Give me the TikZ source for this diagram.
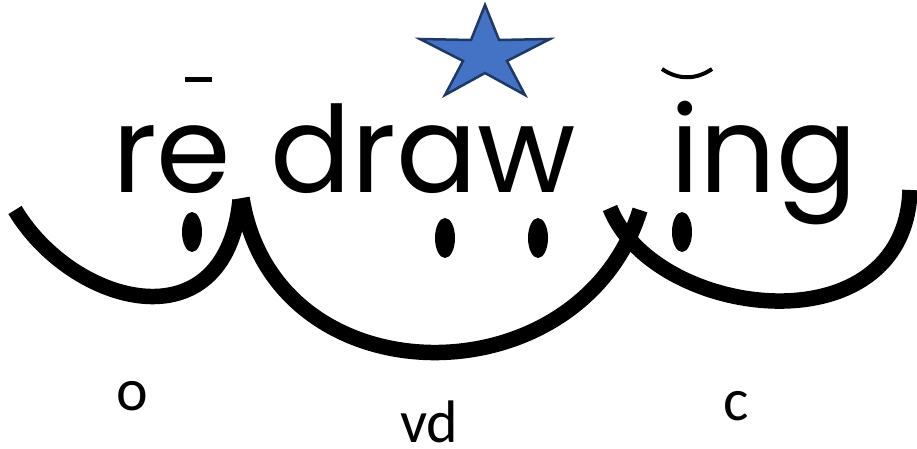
\documentclass[tikz,border=0pt]{standalone}
\usepackage{fontspec}
\newfontfamily\wordfont{Poppins}
\newfontfamily\labelfont{Carlito}
\definecolor{starfill}{HTML}{4472C4}
\definecolor{starline}{HTML}{1F3864}
\begin{document}
\begin{tikzpicture}[x=1pt,y=-1pt,
  arcline/.style={line width=15.5pt,line cap=butt,black},
  word/.style={inner sep=0pt,anchor=base west,font=\wordfont\fontsize{120}{120}\selectfont},
  lbl/.style={inner sep=0pt,anchor=base west,font=\labelfont\fontsize{60}{60}\selectfont},
  dotmark/.style={fill=black},
  accent/.style={black,line cap=butt}]
\useasboundingbox (0,0) rectangle (917,449);
% words
\node[word] (re) at (112,193) {re};
\node[word] (draw) at (270,193) {draw};
\node[word] (ing) at (670,193) {ing};
% accents
\draw[accent,line width=5pt] (185,80) -- (212,80);
\draw[accent,line width=4pt] (662,69) .. controls (678,80) and (696,80) .. (712,69);
% star
\draw[fill=starfill,draw=starline,line width=2.5pt,line join=miter]
  (485,5) -- (499,40) -- (550,39) -- (507,61) -- (525,95) -- (485,73)
  -- (445,95) -- (463,61) -- (420,39) -- (471,40) -- cycle;
% arcs
\draw[arcline] (15,210) .. controls (72,305) and (225,348) .. (240,200);
\draw[arcline] (242,198) .. controls (275,402) and (580,402) .. (640,210);
\draw[arcline] (610,208) .. controls (655,320) and (905,350) .. (910,190);
% dots
\fill[dotmark] (192,232) ellipse [x radius=10, y radius=20];
\fill[dotmark] (445,238) ellipse [x radius=10, y radius=20];
\fill[dotmark] (538,238) ellipse [x radius=10, y radius=20];
\fill[dotmark] (682,232) ellipse [x radius=10, y radius=20];
% labels
\node[lbl] (o) at (116,410) {o};
\node[lbl] (vd) at (400,442) {vd};
\node[lbl] (c) at (723,420) {c};
\end{tikzpicture}
\end{document}
